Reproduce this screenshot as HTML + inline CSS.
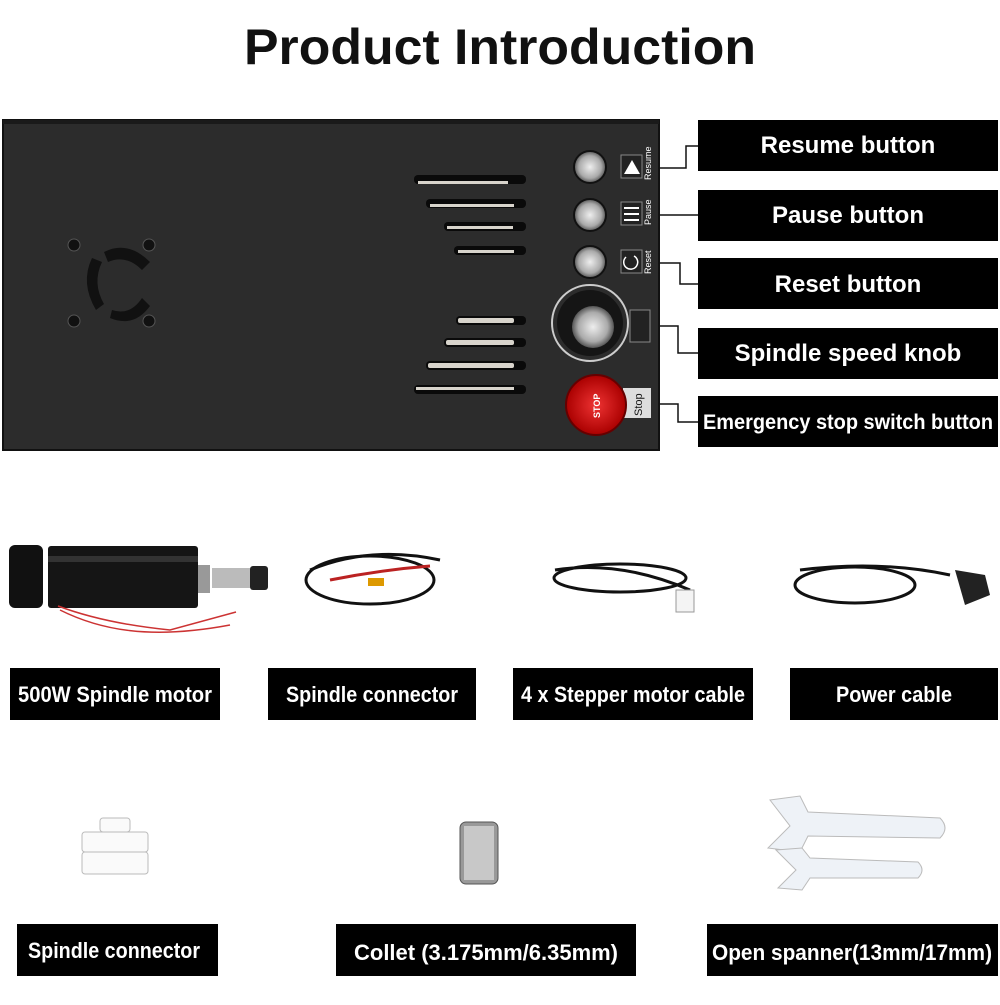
<!DOCTYPE html>
<html><head><meta charset="utf-8"><style>
body{margin:0;width:1000px;height:1000px;background:#fff;overflow:hidden;font-family:"Liberation Sans",sans-serif}
</style></head><body>
<svg width="1000" height="1000" viewBox="0 0 1000 1000" xmlns="http://www.w3.org/2000/svg">
<text x="500" y="64" text-anchor="middle" font-family="Liberation Sans, sans-serif" font-weight="bold" font-size="50" fill="#111" textLength="512" lengthAdjust="spacingAndGlyphs">Product Introduction</text>
<!-- panel -->
<rect x="3" y="120" width="656" height="330" fill="#2c2c2c" stroke="#111" stroke-width="2"/>
<rect x="3" y="120" width="656" height="4" fill="#1a1a1a"/>
<!-- fan -->
<g fill="#111" stroke="#555" stroke-width="1">
<circle cx="74" cy="245" r="6"/><circle cx="149" cy="245" r="6"/><circle cx="74" cy="321" r="6"/><circle cx="149" cy="321" r="6"/>
</g>
<path d="M92 258 Q80 283 96 310 L104 304 Q92 283 102 262Z" fill="#111"/>
<path d="M104 252 Q128 240 150 262 L142 270 Q126 254 108 262Z" fill="#111"/>
<path d="M110 318 Q134 328 150 306 L142 298 Q130 316 112 310Z" fill="#111"/>
<!-- slots -->
<g fill="#0a0a0a">
<rect x="414" y="175" width="112" height="9" rx="4"/>
<rect x="426" y="199" width="100" height="9" rx="4"/>
<rect x="444" y="222" width="82" height="9" rx="4"/>
<rect x="454" y="246" width="72" height="9" rx="4"/>
<rect x="456" y="316" width="70" height="9" rx="4"/>
<rect x="444" y="338" width="82" height="9" rx="4"/>
<rect x="426" y="361" width="100" height="9" rx="4"/>
<rect x="414" y="385" width="112" height="9" rx="4"/>
</g>
<g fill="#d8d4cc">
<rect x="418" y="181" width="90" height="3"/><rect x="430" y="204" width="84" height="3"/><rect x="447" y="226" width="66" height="3"/><rect x="458" y="250" width="56" height="3"/>
<rect x="458" y="318" width="56" height="5" rx="2"/><rect x="446" y="340" width="68" height="5" rx="2"/><rect x="428" y="363" width="86" height="5" rx="2"/><rect x="416" y="387" width="98" height="3"/>
</g>
<!-- buttons -->
<defs><radialGradient id="m"><stop offset="0" stop-color="#eee"/><stop offset="0.7" stop-color="#aaa"/><stop offset="1" stop-color="#555"/></radialGradient>
<radialGradient id="r"><stop offset="0" stop-color="#e33"/><stop offset="1" stop-color="#a00"/></radialGradient></defs>
<circle cx="590" cy="167" r="16" fill="url(#m)" stroke="#111" stroke-width="2"/>
<circle cx="590" cy="215" r="16" fill="url(#m)" stroke="#111" stroke-width="2"/>
<circle cx="590" cy="262" r="16" fill="url(#m)" stroke="#111" stroke-width="2"/>
<rect x="621" y="155" width="21" height="23" fill="#222" stroke="#888"/><path d="M624 174 L632 160 L640 174Z" fill="#fff"/>
<rect x="621" y="202" width="21" height="23" fill="#222" stroke="#888"/><rect x="624" y="207" width="15" height="2" fill="#fff"/><rect x="624" y="213" width="15" height="2" fill="#fff"/><rect x="624" y="219" width="15" height="2" fill="#fff"/>
<rect x="621" y="250" width="21" height="23" fill="#222" stroke="#888"/><path d="M634 256 A7 7 0 1 1 626 257" fill="none" stroke="#fff" stroke-width="1.5"/>
<g fill="#fff" font-size="9" font-family="Liberation Sans, sans-serif">
<text transform="translate(651,180) rotate(-90)">Resume</text>
<text transform="translate(651,225) rotate(-90)">Pause</text>
<text transform="translate(651,274) rotate(-90)">Reset</text>
<text transform="translate(643,338) rotate(-90)">Speed</text>
</g>
<rect x="630" y="310" width="20" height="32" fill="#222" stroke="#888"/>
<circle cx="590" cy="323" r="38" fill="none" stroke="#ccc" stroke-width="2"/>
<circle cx="590" cy="323" r="33" fill="#151515"/>
<circle cx="593" cy="327" r="21" fill="url(#m)"/>
<rect x="623" y="388" width="28" height="30" fill="#ddd"/>
<text transform="translate(642,416) rotate(-90)" font-size="11" fill="#111">Stop</text>
<circle cx="596" cy="405" r="30" fill="url(#r)" stroke="#600" stroke-width="2"/>
<text transform="translate(600,418) rotate(-90)" font-size="9" font-weight="bold" fill="#fff">STOP</text>
<!-- connector lines -->
<g fill="none" stroke="#111" stroke-width="1.5">
<path d="M659 168 H686 V146 H698"/>
<path d="M659 215 H698"/>
<path d="M659 263 H680 V284 H698"/>
<path d="M659 326 H678 V353 H698"/>
<path d="M659 404 H678 V422 H698"/>
</g>
<!-- right labels -->
<g fill="#000">
<rect x="698" y="120" width="300" height="51"/><rect x="698" y="190" width="300" height="51"/><rect x="698" y="258" width="300" height="51"/><rect x="698" y="328" width="300" height="51"/><rect x="698" y="396" width="300" height="51"/>
</g>
<g fill="#fff" font-size="24" font-weight="bold" text-anchor="middle" font-family="Liberation Sans, sans-serif">
<text x="848" y="153">Resume button</text>
<text x="848" y="223">Pause button</text>
<text x="848" y="292">Reset button</text>
<text x="848" y="361">Spindle speed knob</text>
<text x="848" y="429" font-size="21" textLength="290" lengthAdjust="spacingAndGlyphs">Emergency stop switch button</text>
</g>
<!-- motor -->
<rect x="9" y="545" width="34" height="63" rx="6" fill="#111"/>
<rect x="48" y="546" width="150" height="62" rx="3" fill="#151515"/>
<rect x="48" y="556" width="150" height="6" fill="#333"/>
<rect x="198" y="565" width="12" height="28" fill="#999"/>
<rect x="212" y="568" width="38" height="20" fill="#bbb"/>
<rect x="250" y="566" width="18" height="24" rx="3" fill="#222"/>
<path d="M58 606 C90 618 130 626 170 630 L236 612 M60 610 C100 630 150 640 230 625" stroke="#c33" stroke-width="1.5" fill="none"/>
<!-- cables -->
<g fill="none" stroke="#111" stroke-width="3">
<ellipse cx="370" cy="580" rx="64" ry="24"/><path d="M310 570 Q370 545 440 560"/>
<ellipse cx="620" cy="578" rx="66" ry="14"/><path d="M555 570 Q620 560 690 590"/>
<ellipse cx="855" cy="585" rx="60" ry="18"/><path d="M800 570 Q880 560 950 575"/>
</g>
<path d="M330 580 Q380 570 430 566" stroke="#b22" stroke-width="3" fill="none"/>
<rect x="368" y="578" width="16" height="8" fill="#d90"/>
<rect x="676" y="590" width="18" height="22" fill="#f4f4f4" stroke="#999"/>
<path d="M955 570 L985 575 L990 595 L965 605 Z" fill="#222"/>
<!-- bottom labels -->
<g fill="#000">
<rect x="10" y="668" width="210" height="52"/><rect x="268" y="668" width="208" height="52"/><rect x="513" y="668" width="240" height="52"/><rect x="790" y="668" width="208" height="52"/>
<rect x="17" y="924" width="201" height="52"/><rect x="336" y="924" width="300" height="52"/><rect x="707" y="924" width="291" height="52"/>
</g>
<g fill="#fff" font-size="22" font-weight="bold" text-anchor="middle" font-family="Liberation Sans, sans-serif">
<text x="115" y="702" textLength="194" lengthAdjust="spacingAndGlyphs">500W Spindle motor</text>
<text x="372" y="702" textLength="172" lengthAdjust="spacingAndGlyphs">Spindle connector</text>
<text x="633" y="702" textLength="224" lengthAdjust="spacingAndGlyphs">4 x Stepper motor cable</text>
<text x="894" y="702" textLength="116" lengthAdjust="spacingAndGlyphs">Power cable</text>
<text x="114" y="958" textLength="172" lengthAdjust="spacingAndGlyphs">Spindle connector</text>
<text x="486" y="960" textLength="264" lengthAdjust="spacingAndGlyphs">Collet (3.175mm/6.35mm)</text>
<text x="852" y="960" textLength="280" lengthAdjust="spacingAndGlyphs">Open spanner(13mm/17mm)</text>
</g>
<!-- terminal block -->
<g fill="#fafafa" stroke="#bbb">
<rect x="82" y="832" width="66" height="20" rx="3"/><rect x="82" y="852" width="66" height="22" rx="3"/>
<rect x="100" y="818" width="30" height="14" rx="3"/>
</g>
<!-- collet -->
<rect x="460" y="822" width="38" height="62" rx="6" fill="#999" stroke="#555"/>
<rect x="464" y="826" width="30" height="54" fill="#c8c8c8"/>
<!-- spanners -->
<g fill="#eef2f7" stroke="#bbb">
<path d="M770 800 L800 796 L808 812 L940 818 Q950 828 940 838 L808 836 L800 852 L768 848 L790 826 Z"/>
<path d="M776 850 L802 848 L810 858 L918 862 Q926 870 918 878 L810 878 L802 890 L778 888 L796 870 Z"/>
</g>
</svg>
</body></html>
